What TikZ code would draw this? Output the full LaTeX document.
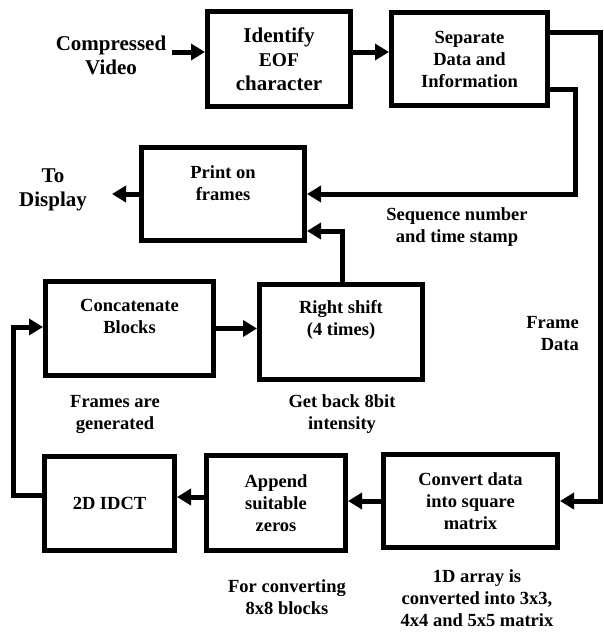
\documentclass[tikz,border=0pt]{standalone}
\usepackage{fontspec}
\setmainfont{Liberation Serif}
\usetikzlibrary{arrows.meta}
\begin{document}
\begin{tikzpicture}[x=1pt,y=-1pt,
  blk/.style={draw,line width=5pt,inner sep=0pt,align=center,font=\bfseries\fontsize{18.5}{22}\selectfont},
  lbl/.style={font=\bfseries\fontsize{18.5}{22}\selectfont,align=center,inner sep=0pt},
  big/.style={font=\bfseries\fontsize{21}{24}\selectfont,align=center,inner sep=0pt},
  conn/.style={line width=5pt},
  arr/.style={line width=5pt,-{Triangle[length=14pt,width=16pt]}}]
\useasboundingbox (0,0) rectangle (603,632);
% boxes
\node[blk,big,minimum width=143pt,minimum height=95pt] (identify) at (279,59)
  {Identify\\{\fontsize{19.5}{24}\selectfont EOF}\\character};
\node[blk,minimum width=156pt,minimum height=93pt] (separate) at (469.5,59)
  {Separate\\Data and\\Information};
\node[blk,minimum width=163pt,minimum height=93pt] (print) at (223,194) {};
\node[lbl] (printt) at (223,183) {Print on\\frames};
\node[blk,minimum width=168pt,minimum height=94pt] (concat) at (129.5,328.5) {};
\node[lbl] (concatt) at (129.5,316) {Concatenate\\Blocks};
\node[blk,minimum width=163pt,minimum height=95pt] (rshift) at (341,332) {};
\node[lbl] (rshiftt) at (341,320) {Right shift\\(4 times)};
\node[blk,minimum width=130pt,minimum height=94pt] (idct) at (109.5,503.5) {2D IDCT};
\node[blk,minimum width=139pt,minimum height=95pt] (append) at (276,503) {Append\\suitable\\zeros};
\node[blk,minimum width=174pt,minimum height=93pt] (convert) at (470.5,501) {Convert data\\into square\\matrix};
% free labels
\node[big] (cv) at (111,55) {Compressed\\Video};
\node[big] (todisp) at (53,190) {To\\Display};
\node[lbl] (seq) at (457,227) {Sequence number\\and time stamp};
\node[lbl,anchor=east,align=right] (fdata) at (579,334) {Frame\\Data};
\node[lbl] (fgen) at (115,414) {Frames are\\generated};
\node[lbl] (getback) at (342,414) {Get back 8bit\\intensity};
\node[lbl] (forconv) at (287,597) {For converting\\8x8 blocks};
\node[lbl] (oned) at (477,598) {1D array is\\converted into 3x3,\\4x4 and 5x5 matrix};
% connectors
\coordinate (c1) at (172,52);
\draw[arr] (c1) -- (c1 -| identify.west);
\draw[arr] (identify.east |- c1) -- (separate.west |- c1);
\coordinate (r1) at (600,32);
\coordinate (r2) at (575,89);
\draw[arr] (separate.east |- r1) -- (r1) -- (r1 |- convert.east) -- (convert.east);
\draw[arr] (separate.east |- r2) -- (r2) -- (r2 |- print.east) -- (print.east);
\coordinate (td) at (112,194);
\draw[arr] (print.west) -- (td);
\coordinate (p1) at (342,231);
\draw[arr] (rshift.north -| p1) -- (p1) -- (p1 -| print.east);
\draw[arr] (concat.east) -- (concat.east -| rshift.west);
\draw[arr] (convert.west) -- (convert.west -| append.east);
\coordinate (a2) at (0,497);
\draw[arr] (append.west |- a2) -- (idct.east |- a2);
\coordinate (l1) at (13,495);
\coordinate (l2) at (13,327);
\draw[arr] (idct.west |- l1) -- (l1) -- (l2) -- (l2 -| concat.west);
\end{tikzpicture}
\end{document}
